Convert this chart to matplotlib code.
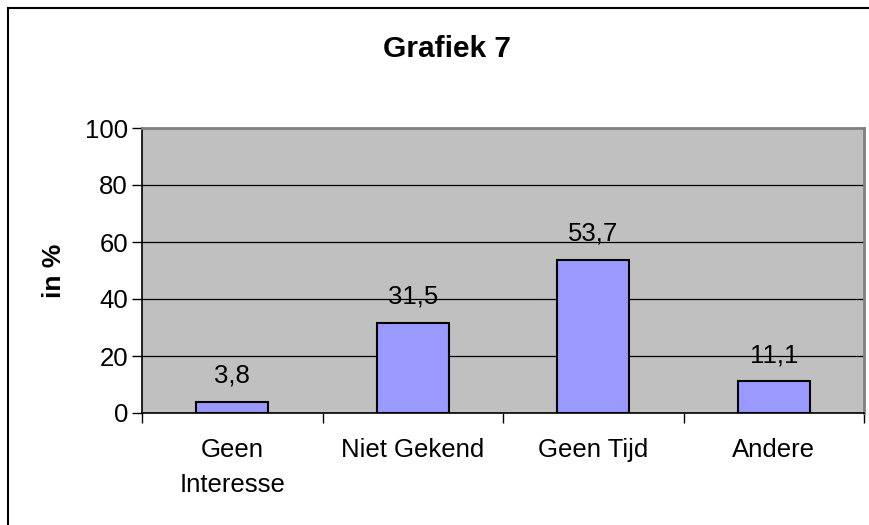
import matplotlib
matplotlib.use("Agg")
import matplotlib.pyplot as plt
from matplotlib.lines import Line2D

categories = ["Geen\nInteresse", "Niet Gekend", "Geen Tijd", "Andere"]
values = [3.8, 31.5, 53.7, 11.1]
labels = ["3,8", "31,5", "53,7", "11,1"]
yticks = [0, 20, 40, 60, 80, 100]

plt.rcParams["font.family"] = ["Liberation Sans", "DejaVu Sans"]

W, H = 870, 525
fig = plt.figure(figsize=(W / 100, H / 100), dpi=100)
ax = fig.add_axes([142 / W, 1 - 413 / H, (864 - 142) / W, (413 - 128) / H])

# outer frame (only top and left edges are visible in the crop)
fig.add_artist(Line2D([8 / W, 8 / W], [0, 1 - 8 / H], transform=fig.transFigure, color="black", lw=1.5))
fig.add_artist(Line2D([8 / W, 1], [1 - 8 / H, 1 - 8 / H], transform=fig.transFigure, color="black", lw=1.5))

x = range(len(categories))
ax.set_facecolor("#C0C0C0")
ax.bar(x, values, width=0.4, color="#9999FF", edgecolor="black", linewidth=1.5, zorder=3)
for xi, v, lab in zip(x, values, labels):
    ax.text(xi, v + 5, lab, ha="center", va="bottom", fontsize=18.5)

ax.set_xlim(-0.5, len(categories) - 0.5)
ax.set_ylim(0, 100)
ax.set_yticks(yticks)
ax.tick_params(axis="y", labelsize=18.5, length=7, width=1, direction="out", pad=3)
ax.yaxis.grid(True, color="black", linewidth=0.9, zorder=1)
ax.set_axisbelow(True)

ax.set_xticks(list(x))
ax.set_xticklabels(categories, fontsize=18.5, linespacing=1.6)
ax.tick_params(axis="x", which="major", length=0, pad=18)
ax.set_xticks([i - 0.5 for i in range(len(categories) + 1)], minor=True)
ax.tick_params(axis="x", which="minor", length=7, width=1, direction="out")

for s in ["left", "bottom"]:
    ax.spines[s].set_color("black")
    ax.spines[s].set_linewidth(1.2)
for s in ["top", "right"]:
    ax.spines[s].set_color("#808080")
    ax.spines[s].set_linewidth(2)

ax.set_ylabel("in %", fontsize=19, fontweight="bold", labelpad=14)
fig.text(447 / W, 1 - 49 / H, "Grafiek 7", ha="center", va="center", fontsize=21.5, fontweight="bold")

fig.savefig("out.png", dpi=100)
